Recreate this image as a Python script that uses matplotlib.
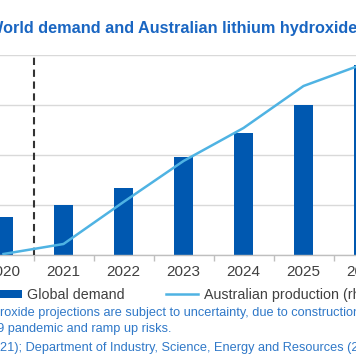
import numpy as np
from matplotlib import pyplot as plt

plt.rcParams['font.family'] = ['Liberation Sans', 'DejaVu Sans']

years = ['2020', '2021', '2022', '2023', '2024', '2025', '2026']
global_demand = [77, 100, 135, 195, 243, 299, 380]
aus_production = [0.5, 5.5, 26.5, 47, 63.5, 84.5, 95.5]

bar_color = '#0058B0'
line_color = '#4FB3E3'
text_blue = '#1A66C2'
note_blue = '#2F78C8'
grey_text = '#404040'

W, H = 356, 364
fig = plt.figure(figsize=(W / 100, H / 100), dpi=100)

# axes run past the canvas on both sides (the reference is a crop)
left_px, right_px = -26.5, 393.5
top_px, bottom_px = 55, 255
ax = fig.add_axes([left_px / W, (H - bottom_px) / H,
                   (right_px - left_px) / W, (bottom_px - top_px) / H])

x = np.arange(len(years))
ax.bar(x, global_demand, width=0.32, color=bar_color, zorder=2, label='Global demand')
ax.set_xlim(-0.5, len(years) - 0.5)
ax.set_ylim(0, 400)
ax.set_yticks([0, 100, 200, 300, 400])
ax.yaxis.grid(True, color='#D9D9D9', linewidth=1)
ax.set_axisbelow(True)
ax.tick_params(axis='y', left=False, labelleft=False)
for s in ['top', 'left', 'right']:
    ax.spines[s].set_visible(False)
ax.spines['bottom'].set_color('#BFBFBF')
ax.spines['bottom'].set_linewidth(1)

ax.set_xticks(x, years)
ax.set_xticks(x[:-1] + 0.5, minor=True)
ax.tick_params(axis='x', which='major', length=0, pad=7.5, labelsize=11, labelcolor=grey_text)
ax.tick_params(axis='x', which='minor', length=4, color='#BFBFBF', width=1)

ax.axvline(0.5, color='#333333', linestyle=(0, (3.5, 2.2)), linewidth=1.5, zorder=4)

ax2 = ax.twinx()
ax2.plot(x, aus_production, color=line_color, linewidth=1.8, zorder=3,
         label='Australian production (rhs)')
ax2.set_ylim(0, 100)
ax2.axis('off')

handles = [ax.patches[0], ax2.lines[0]]
labels = ['Global demand', 'Australian production (rhs)']
fig.legend(handles, labels, loc='center left', bbox_to_anchor=(-10 / W, 69 / H),
           ncol=2, frameon=False, borderpad=0, borderaxespad=0, fontsize=10.3,
           handlelength=2.25, handleheight=0.5, handletextpad=0.35, columnspacing=2.9,
           labelcolor=grey_text)

fig.text(-12 / W, (H - 29) / H, 'World demand and Australian lithium hydroxide production',
         fontsize=11.7, fontweight='bold', color=text_blue, va='center', ha='left')

fig.text(-0.5 / W, (H - 313) / H,
         'roxide projections are subject to uncertainty, due to construction, COVID-',
         fontsize=9.2, color=note_blue, va='center', ha='left')
fig.text(-10 / W, (H - 329) / H, '19 pandemic and ramp up risks.',
         fontsize=9.2, color=note_blue, va='center', ha='left')
fig.text(0 / W, (H - 347.5) / H,
         '21); Department of Industry, Science, Energy and Resources (2021)',
         fontsize=9.2, color=note_blue, va='center', ha='left')

fig.savefig('out.png', dpi=100)
